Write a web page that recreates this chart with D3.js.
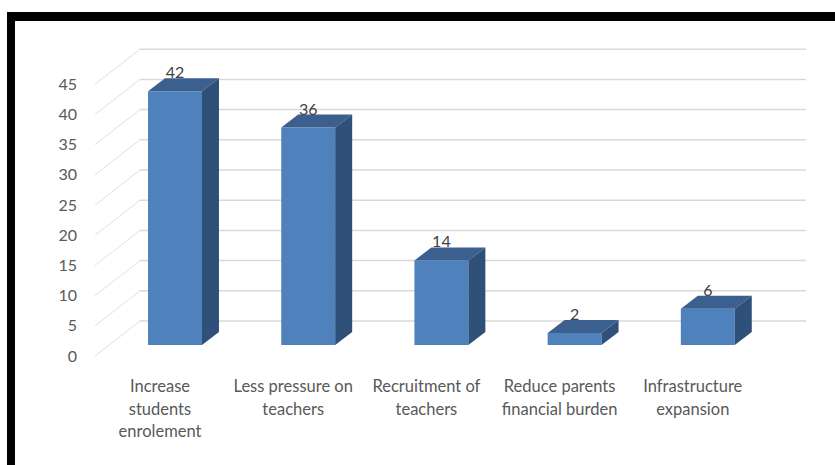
<!DOCTYPE html>
<html>
<head>
<meta charset="utf-8">
<script src="https://cdn.jsdelivr.net/npm/d3@7"></script>
<style>
    body { margin: 0; background: #fff; }
    text { font-family: Lato, "Open Sans", sans-serif; }
</style>
</head>
<body>
<div id="chart"></div>
<script>
var categories = ["Increase\nstudents\nenrolement", "Less pressure on\nteachers", "Recruitment of\nteachers", "Reduce parents\nfinancial burden", "Infrastructure\nexpansion"];
var values = [42, 36, 14, 2, 6];
var yTicks = [0, 5, 10, 15, 20, 25, 30, 35, 40, 45];

function chart() {
    //Settings
    var width = 835;
    var height = 465;
    var frontColor = "#4f81bd";
    var topColor = "#3b6090";
    var sideColor = "#2f5079";
    var gridColor = "#d9d9d9";
    // depth offsets
    var bdx = 17, bdy = -13;     // bar depth
    var wallDx = 45, wallDy = -35; // floor depth (front labels -> back wall)
    var barBack = 24;            // back wall sits this far above bar front plane

    var svg = d3.select("#chart").append("svg")
        .attr("width", width)
        .attr("height", height);

    //Frame
    svg.append("rect").attr("x", 7).attr("y", 12).attr("width", width - 7).attr("height", 9).attr("fill", "#000");
    svg.append("rect").attr("x", 7).attr("y", 12).attr("width", 8).attr("height", height - 12).attr("fill", "#000");

    var x = d3.scaleBand()
        .domain(categories)
        .range([108.4, 774.4])
        .paddingInner(0.595)
        .paddingOuter(0.2975);

    // y on the bar front plane
    var y = d3.scaleLinear()
        .domain([0, 45])
        .range([345, 345 - 45 * 6.04]);

    // y for the axis labels (front edge of the floor)
    var yAxisScale = d3.scaleLinear()
        .domain([0, 45])
        .range([y(0) + 11, y(45) + 11]);

    //Gridlines on the back wall + side wall
    var grid = svg.append("g");
    grid.selectAll("line.h")
        .data(yTicks)
        .enter()
        .append("line")
        .attr("class", "h")
        .attr("x1", 95 + wallDx)
        .attr("x2", 806)
        .attr("y1", function(d) { return y(d) - barBack; })
        .attr("y2", function(d) { return y(d) - barBack; })
        .attr("stroke", gridColor)
        .attr("stroke-width", 1.5);
    grid.selectAll("line.d")
        .data(yTicks)
        .enter()
        .append("line")
        .attr("class", "d")
        .attr("x1", 95)
        .attr("x2", 95 + wallDx)
        .attr("y1", function(d) { return yAxisScale(d); })
        .attr("y2", function(d) { return yAxisScale(d) + wallDy; })
        .attr("stroke", "#e0e0e0")
        .attr("stroke-width", 1);

    //Axis labels
    var yAxis = d3.axisLeft()
        .scale(yAxisScale)
        .tickValues(yTicks)
        .tickSize(0)
        .tickPadding(5);

    var yAxisGroup = svg.append("g")
        .attr("class", "yAxis")
        .attr("transform", "translate(82,0)")
        .call(yAxis);
    yAxisGroup.select(".domain").remove();
    yAxisGroup.selectAll("text")
        .style("font-family", "Lato, sans-serif")
        .style("font-size", "16px")
        .attr("fill", "#595959");

    //Bars
    var bars = svg.append("g").selectAll("g")
        .data(values)
        .enter()
        .append("g");

    bars.append("rect")
        .attr("x", function(d, i) { return x(categories[i]); })
        .attr("y", function(d) { return y(d); })
        .attr("width", x.bandwidth())
        .attr("height", function(d) { return y(0) - y(d); })
        .attr("fill", frontColor);

    bars.append("path")
        .attr("fill", topColor)
        .attr("d", function(d, i) {
            var x0 = x(categories[i]), x1 = x0 + x.bandwidth(), yt = y(d);
            return "M" + x0 + "," + yt + "L" + (x0 + bdx) + "," + (yt + bdy) +
                "L" + (x1 + bdx) + "," + (yt + bdy) + "L" + x1 + "," + yt + "Z";
        });

    bars.append("path")
        .attr("fill", sideColor)
        .attr("d", function(d, i) {
            var x1 = x(categories[i]) + x.bandwidth(), yt = y(d), yb = y(0);
            return "M" + x1 + "," + yt + "L" + (x1 + bdx) + "," + (yt + bdy) +
                "L" + (x1 + bdx) + "," + (yb + bdy) + "L" + x1 + "," + yb + "Z";
        });

    //Value labels
    bars.append("text")
        .attr("x", function(d, i) { return x(categories[i]) + x.bandwidth() / 2; })
        .attr("y", function(d) { return y(d) - 13; })
        .attr("text-anchor", "middle")
        .style("font-size", "16px")
        .attr("fill", "#404040")
        .text(function(d) { return d; });

    //Category labels
    var catLabels = svg.append("g").selectAll("text")
        .data(categories)
        .enter()
        .append("text")
        .attr("text-anchor", "middle")
        .style("font-size", "16.5px")
        .attr("fill", "#595959")
        .attr("transform", function(d) {
            return "translate(" + (x(d) + x.bandwidth() / 2 - 15) + ",392)";
        });

    catLabels.selectAll("tspan")
        .data(function(d) { return d.split("\n"); })
        .enter()
        .append("tspan")
        .attr("x", 0)
        .attr("y", function(d, i) { return i * 22.5; })
        .text(function(d) { return d; });
}

chart();
</script>
</body>
</html>
